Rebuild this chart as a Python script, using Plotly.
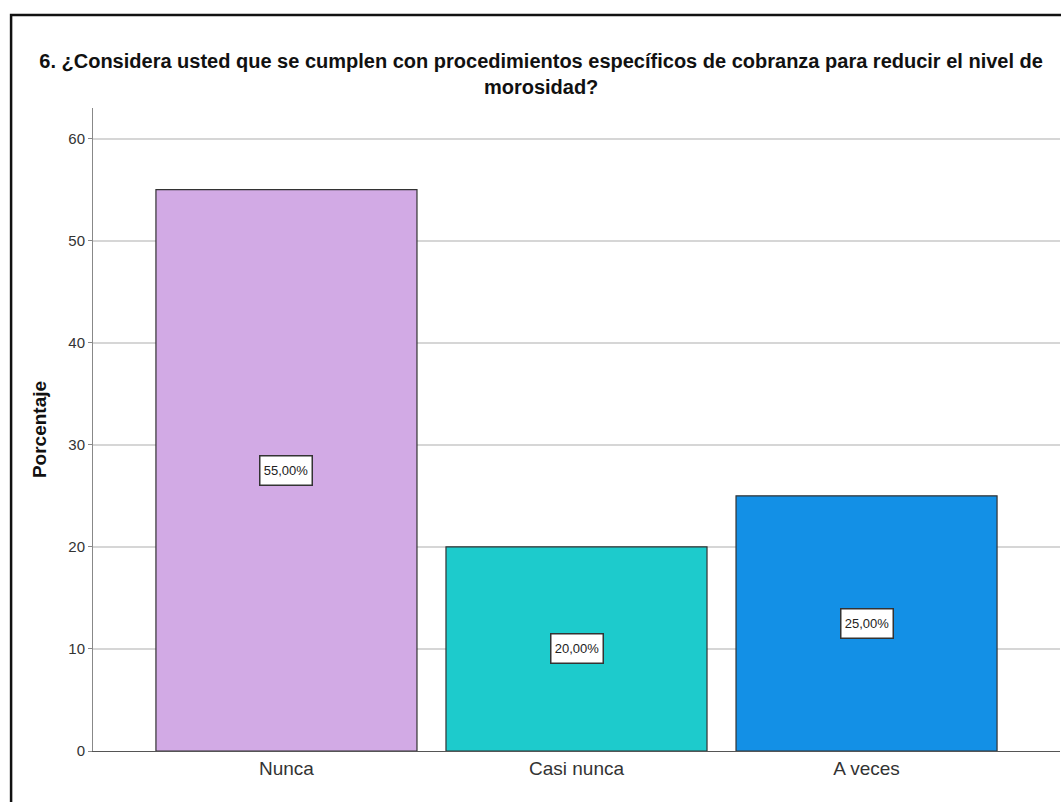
import plotly.graph_objects as go

categorias = ["Nunca", "Casi nunca", "A veces"]
porcentajes = [55.0, 20.0, 25.0]
colores = ["#D2AAE5", "#1DCBCC", "#1390E6"]
ticks_y = [0, 10, 20, 30, 40, 50, 60]

FONT = "Liberation Sans Narrow, Arial Narrow, Liberation Sans, Arial, sans-serif"

fig = go.Figure()
fig.add_trace(go.Bar(
    x=categorias,
    y=porcentajes,
    width=0.9,
    marker=dict(color=colores, line=dict(color="#333333", width=1.2)),
    hoverinfo="x+y",
))

# value labels in white boxes at half the bar height
for c, v in zip(categorias, porcentajes):
    fig.add_annotation(
        x=c, y=v / 2, text=f"{v:.2f}%".replace(".", ","),
        showarrow=False, xref="x", yref="y",
        font=dict(family=FONT, size=13, color="#222"),
        width=51, height=28,
        bgcolor="white", bordercolor="#333", borderwidth=1.5, borderpad=0,
    )

fig.update_layout(
    width=1061, height=802,
    margin=dict(l=93, r=1, t=108, b=51),
    paper_bgcolor="white", plot_bgcolor="white",
    showlegend=False,
    title=dict(
        text="6. ¿Considera usted que se cumplen con procedimientos específicos de cobranza para reducir el nivel de<br>morosidad?",
        x=0.51, xanchor="center", y=1 - 68 / 802, yanchor="middle",
        font=dict(family=FONT, size=20, color="#111", weight="bold"),
    ),
    font=dict(family=FONT),
)

fig.update_xaxes(
    range=[-0.667, 2.667],
    showline=True, linecolor="#555", linewidth=1,
    ticks="", tickfont=dict(family=FONT, size=19, color="#333"),
    showgrid=False,
)
fig.update_yaxes(
    range=[0, 63], tickvals=ticks_y,
    showline=True, linecolor="#888", linewidth=1,
    showgrid=True, gridcolor="#D6D6D6", gridwidth=2,
    ticks="outside", ticklen=4, tickcolor="#888",
    tickfont=dict(family=FONT, size=15, color="#333"),
    zeroline=False,
    title=dict(text="<b>Porcentaje</b>", font=dict(family=FONT, size=19, color="#111"), standoff=16),
)

# outer frame
fig.add_shape(type="rect", xref="paper", yref="paper",
              x0=-82 / 968, x1=1.01, y0=-0.2, y1=1 + 93 / 643,
              line=dict(color="#111", width=2.5), layer="above")

fig.write_html("out.html")
